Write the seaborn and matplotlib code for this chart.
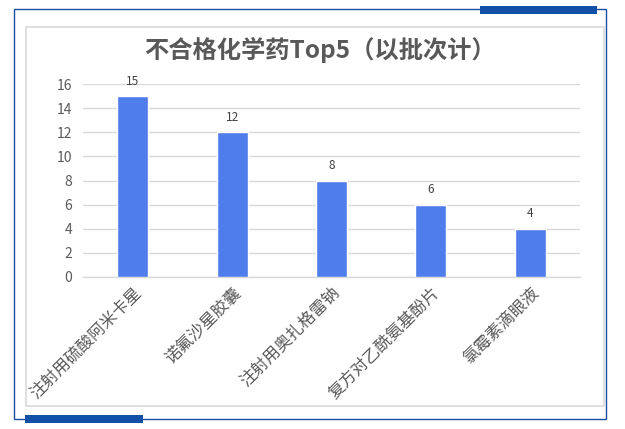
import matplotlib
matplotlib.use("Agg")
import matplotlib.pyplot as plt
import seaborn as sns
import pandas as pd
from matplotlib.patches import Rectangle

categories = ["注射用硫酸阿米卡星", "诺氟沙星胶囊", "注射用奥扎格雷钠", "复方对乙酰氨基酚片", "氯霉素滴眼液"]
values = [15, 12, 8, 6, 4]
yticks = [0, 2, 4, 6, 8, 10, 12, 14, 16]
title = "不合格化学药Top5（以批次计）"

sns.set_theme(style="white")
plt.rcParams['font.family'] = ['Noto Sans CJK SC', 'DejaVu Sans']

W, H = 625, 429
fig = plt.figure(figsize=(W / 100, H / 100), dpi=100)
fig.patch.set_facecolor("white")

def fx(x):
    return x / W

def fy(y):
    return 1 - y / H

# inner panel
fig.patches.append(Rectangle((fx(26), fy(406)), fx(604) - fx(26), fy(27) - fy(406),
                             transform=fig.transFigure, facecolor="white",
                             edgecolor="#d9d9d9", linewidth=1.2, zorder=0))
# outer blue frame
fig.patches.append(Rectangle((fx(14), fy(419)), fx(606) - fx(14), fy(9) - fy(419),
                             transform=fig.transFigure, facecolor="none",
                             edgecolor="#1a4fa0", linewidth=1.0, zorder=1))
# accent bars
fig.patches.append(Rectangle((fx(480), fy(14)), fx(597) - fx(480), fy(6) - fy(14),
                             transform=fig.transFigure, facecolor="#1150a6",
                             edgecolor="none", zorder=2))
fig.patches.append(Rectangle((fx(25), fy(423)), fx(143) - fx(25), fy(415) - fy(423),
                             transform=fig.transFigure, facecolor="#1150a6",
                             edgecolor="none", zorder=2))

ax = fig.add_axes([fx(83), fy(277), fx(580) - fx(83), fy(84) - fy(277)])
ax.set_zorder(5)
ax.set_facecolor("none")
df = pd.DataFrame({"cat": categories, "val": values})
sns.barplot(data=df, x="cat", y="val", color="#4f7deb", width=0.31,
            saturation=1, ax=ax, zorder=3)

ax.set_ylim(0, 16)
ax.set_yticks(yticks)
ax.set_yticklabels([str(t) for t in yticks], fontsize=10, color="#595959")
ax.yaxis.grid(True, color="#d9d9d9", linewidth=1.0)
ax.set_axisbelow(True)
for s in ["top", "right", "left"]:
    ax.spines[s].set_visible(False)
ax.spines["bottom"].set_color("#d9d9d9")
ax.spines["bottom"].set_linewidth(1.0)
ax.tick_params(axis="both", length=0, pad=8)
ax.tick_params(axis="x", pad=5)
ax.set_xlabel("")
ax.set_ylabel("")
ax.set_xticks(range(len(categories)))
ax.set_xticklabels(categories, rotation=45, ha="right", rotation_mode="anchor",
                   fontsize=12, color="#595959")

for i, v in enumerate(values):
    ax.annotate(str(v), (i, v), xytext=(0, 6), textcoords="offset points",
                ha="center", va="bottom", fontsize=8.5, color="#404040")

fig.text(fx(320), fy(50), title, ha="center", va="center", fontsize=17.5,
         fontweight="bold", color="#595959", zorder=6)

fig.savefig("out.png", dpi=100)
